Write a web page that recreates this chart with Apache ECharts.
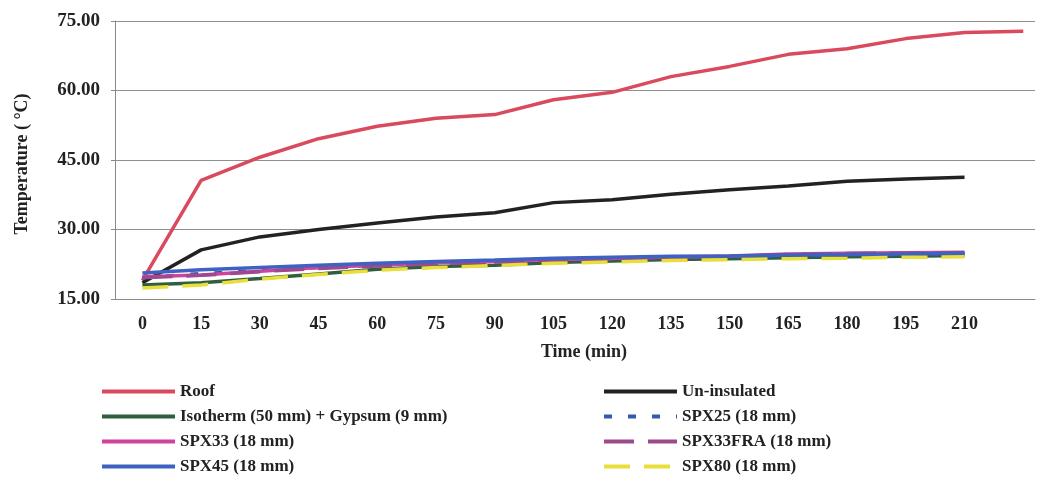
<!DOCTYPE html>
<html>
<head>
<meta charset="utf-8">
<script src="https://cdn.jsdelivr.net/npm/echarts@6/dist/echarts.min.js"></script>
<style>
  html, body { margin: 0; padding: 0; background: #fff; }
  #chart { width: 1046px; height: 484px; }
</style>
</head>
<body>
<div id="chart"></div>
<script>
// time in minutes
const times = [0, 15, 30, 45, 60, 75, 90, 105, 120, 135, 150, 165, 180, 195, 210];
const roofTimes = [0, 15, 30, 45, 60, 75, 90, 105, 120, 135, 150, 165, 180, 195, 210, 225];
const xTickLabels = [0, 15, 30, 45, 60, 75, 90, 105, 120, 135, 150, 165, 180, 195, 210];

// temperatures (°C)
const roof        = [19.0, 40.6, 45.6, 49.6, 52.3, 54.0, 54.8, 58.0, 59.6, 63.0, 65.2, 67.8, 69.0, 71.2, 72.5, 72.8];
const uninsulated = [18.5, 25.6, 28.4, 30.0, 31.4, 32.7, 33.6, 35.8, 36.4, 37.6, 38.6, 39.4, 40.4, 40.9, 41.3];
const isotherm    = [18.0, 18.5, 19.4, 20.4, 21.4, 22.0, 22.3, 22.9, 23.2, 23.5, 23.7, 23.9, 24.1, 24.2, 24.4];
const spx25       = [19.6, 20.5, 21.1, 21.8, 22.3, 22.7, 23.0, 23.4, 23.7, 24.0, 24.1, 24.3, 24.5, 24.6, 24.8];
const spx33       = [19.8, 20.2, 21.0, 21.8, 22.3, 22.8, 23.1, 23.5, 23.8, 24.1, 24.3, 24.7, 24.9, 25.0, 25.1];
const spx33fra    = [19.6, 20.1, 20.9, 21.6, 22.1, 22.6, 23.0, 23.4, 23.7, 24.0, 24.2, 24.6, 24.8, 24.9, 25.0];
const spx45       = [20.6, 21.3, 21.8, 22.3, 22.7, 23.1, 23.4, 23.8, 24.0, 24.2, 24.3, 24.5, 24.6, 24.7, 24.9];
const spx80       = [17.4, 18.0, 19.3, 20.3, 21.2, 21.8, 22.2, 22.7, 23.0, 23.3, 23.5, 23.7, 23.8, 24.0, 24.1];

const font = 'Liberation Serif';

function pairs(xs, ys) {
  return ys.map((v, i) => [xs[i], v]);
}

function line(name, xs, ys, color, type) {
  return {
    name: name,
    type: 'line',
    symbol: 'none',
    data: pairs(xs, ys),
    lineStyle: { color: color, width: 3.5, type: type || 'solid' },
    itemStyle: { color: color }
  };
}

const legendText = { fontFamily: font, fontWeight: 'bold', fontSize: 17, color: '#222' };

const chart = echarts.init(document.getElementById('chart'), null, { renderer: 'canvas' });

chart.setOption({
  animation: false,
  backgroundColor: '#fff',
  textStyle: { fontFamily: font },
  grid: { left: 115, right: 11, top: 21, bottom: 185 },
  legend: [
    {
      orient: 'vertical',
      left: 100, top: 383, padding: 0,
      itemWidth: 73, itemHeight: 18, itemGap: 8,
      itemStyle: { opacity: 0 },
      lineStyle: { width: 4 },
      data: ['Roof', 'Isotherm (50 mm) + Gypsum (9 mm)', 'SPX33 (18 mm)', 'SPX45 (18 mm)'],
      textStyle: legendText
    },
    {
      orient: 'vertical',
      left: 602, top: 383, padding: 0,
      itemWidth: 73, itemHeight: 18, itemGap: 8,
      itemStyle: { opacity: 0 },
      lineStyle: { width: 4 },
      data: ['Un-insulated', 'SPX25 (18 mm)', 'SPX33FRA (18 mm)', 'SPX80 (18 mm)'],
      textStyle: legendText
    }
  ],
  xAxis: {
    type: 'value',
    min: -7,
    max: 228,
    name: 'Time (min)',
    nameLocation: 'middle',
    nameGap: 44,
    nameTextStyle: { fontFamily: font, fontWeight: 'bold', fontSize: 18, color: '#222', padding: [0, 0, 0, 18] },
    axisLine: { show: true, onZero: false, lineStyle: { color: '#8a8a8a', width: 1 } },
    axisTick: { show: false },
    splitLine: { show: false },
    axisLabel: {
      customValues: xTickLabels,
      margin: 16,
      fontFamily: font, fontWeight: 'bold', fontSize: 18, color: '#222'
    }
  },
  yAxis: {
    type: 'value',
    min: 15,
    max: 75,
    interval: 15,
    name: 'Temperature ( °C)',
    nameLocation: 'middle',
    nameGap: 84,
    nameRotate: 90,
    nameTextStyle: { fontFamily: font, fontWeight: 'bold', fontSize: 18, color: '#222', padding: [0, 0, 0, -8] },
    axisLine: { show: true, onZero: false, lineStyle: { color: '#8a8a8a', width: 1 } },
    axisTick: { show: true, length: 4, lineStyle: { color: '#8a8a8a' } },
    splitLine: { show: true, lineStyle: { color: '#8f8f8f', width: 1 } },
    axisLabel: {
      margin: 15,
      formatter: v => v.toFixed(2),
      fontFamily: font, fontWeight: 'bold', fontSize: 19, color: '#222'
    }
  },
  series: [
    line('Roof', roofTimes, roof, '#d94a5e'),
    line('Un-insulated', times, uninsulated, '#222222'),
    line('Isotherm (50 mm) + Gypsum (9 mm)', times, isotherm, '#2f5f3f'),
    line('SPX25 (18 mm)', times, spx25, '#3558b0', [8, 16]),
    line('SPX33 (18 mm)', times, spx33, '#d0429e'),
    line('SPX33FRA (18 mm)', times, spx33fra, '#9c4a8e', [30, 14]),
    line('SPX45 (18 mm)', times, spx45, '#3d62c2'),
    line('SPX80 (18 mm)', times, spx80, '#e8df3c', [26, 14])
  ]
});
</script>
</body>
</html>
